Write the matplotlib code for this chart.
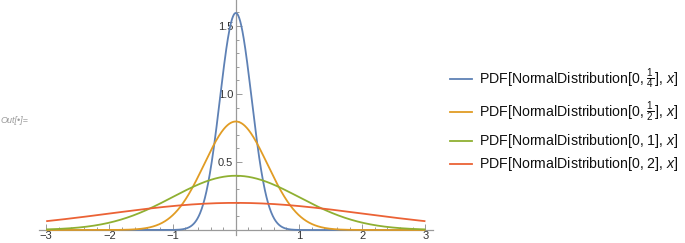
import numpy as np
import matplotlib
matplotlib.use("Agg")
from matplotlib import pyplot as plt
from matplotlib.lines import Line2D
from matplotlib.ticker import MultipleLocator, FixedLocator

plt.rcParams['font.family'] = ['Liberation Sans', 'DejaVu Sans']
plt.rcParams['mathtext.fontset'] = 'custom'
plt.rcParams['mathtext.rm'] = 'Liberation Sans'
plt.rcParams['mathtext.it'] = 'Liberation Sans:italic'

# distribution parameters (mean, standard deviation) as given in the legend
means = [0, 0, 0, 0]
sigmas = [0.25, 0.5, 1.0, 2.0]
labels = [r'PDF[NormalDistribution[0, $\frac{1}{4}$], $x$]',
          r'PDF[NormalDistribution[0, $\frac{1}{2}$], $x$]',
          r'PDF[NormalDistribution[0, 1], $x$]',
          r'PDF[NormalDistribution[0, 2], $x$]']
colors = ['#5E81B5', '#E19C24', '#8FB032', '#EB6235']
x_ticks = [-3, -2, -1, 1, 2, 3]
y_ticks = [0.5, 1.0, 1.5]

W, H = 685, 243
fig = plt.figure(figsize=(W / 100, H / 100), dpi=100)
# axes box in pixels: x from 38.6 to 433, y=0 at 230 px from top
ax = fig.add_axes([38.6 / W, 8 / H, (433 - 38.6) / W, (243 - 8) / H])

xs = np.linspace(-3, 3, 1201)
for mu, s, c in zip(means, sigmas, colors):
    ys = np.exp(-0.5 * ((xs - mu) / s) ** 2) / (s * np.sqrt(2 * np.pi))
    ax.plot(xs, ys, color=c, lw=1.3, solid_capstyle='butt')

ax.set_xlim(-3.12, 3.12)
# y=0 sits at 230 px from top, 136 px per unit
ax.set_ylim(-5 / 136, 230 / 136)

for sp in ['top', 'right']:
    ax.spines[sp].set_visible(False)
ax.spines['left'].set_position(('data', 0))
ax.spines['bottom'].set_position(('data', 0))
for sp in ['left', 'bottom']:
    ax.spines[sp].set_color('#9a9a9a')
    ax.spines[sp].set_linewidth(0.9)
    ax.spines[sp].set_zorder(0)

ax.xaxis.set_major_locator(FixedLocator(x_ticks))
ax.xaxis.set_minor_locator(MultipleLocator(0.2))
ax.yaxis.set_major_locator(FixedLocator(y_ticks))
ax.yaxis.set_minor_locator(FixedLocator([v / 10 for v in range(1, 17) if v % 5]))
ax.set_xticklabels(['\u22123', '\u22122', '\u22121', '1', '2', '3'])
ax.set_yticklabels(['0.5', '1.0', '1.5'])
ax.tick_params(which='both', direction='in', color='#9a9a9a', width=0.7,
               labelsize=8, labelcolor='#333333')
ax.tick_params(which='major', length=4)
ax.tick_params(axis='x', which='major', pad=1)
ax.tick_params(axis='y', which='major', pad=2)
ax.tick_params(which='minor', length=2.2)
ax.patch.set_alpha(0)

# hand-placed legend (rows in px from top)
row_y = [79, 112, 141, 164]
for yy, c, lab in zip(row_y, colors, labels):
    fy = 1 - yy / H
    fig.add_artist(Line2D([450 / W, 472 / W], [fy, fy], color=c, lw=1.3,
                          transform=fig.transFigure))
    fig.text(479 / W, fy, lab, fontsize=10.2, color='#111111',
             va='center', ha='left')

fig.text(1 / W, 1 - 120 / H, 'Out[\u2022]=', fontsize=6.5, style='italic',
         color='#9a9a9a', va='center', ha='left')

plt.savefig('out.png', dpi=100)
